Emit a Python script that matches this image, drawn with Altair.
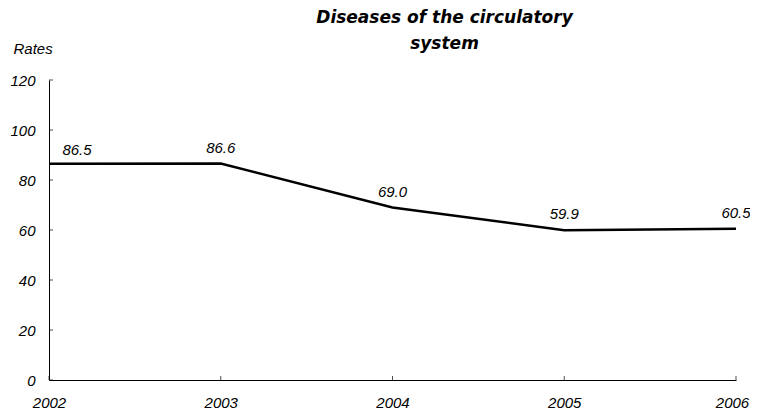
import altair as alt
import pandas as pd

years = [2002, 2003, 2004, 2005, 2006]
rates = [86.5, 86.6, 69.0, 59.9, 60.5]
labels = ["86.5", "86.6", "69.0", "59.9", "60.5"]
y_ticks = [0, 20, 40, 60, 80, 100, 120]

df = pd.DataFrame({"year": years, "rate": rates, "label": labels})
ticks_y = pd.DataFrame({"v": y_ticks})
ticks_x = pd.DataFrame({"year": years})

FONT = "Liberation Sans"

xscale = alt.Scale(domain=[2002, 2006], nice=False, zero=False)
yscale = alt.Scale(domain=[0, 120], nice=False)

base = alt.Chart(df)

line = base.mark_line(color="black", strokeWidth=2.5).encode(
    x=alt.X("year:Q", scale=xscale, axis=alt.Axis(
        values=years, format="d", title=None, ticks=False, grid=False,
        domainColor="black", domainWidth=1, labelFont=FONT, labelFontSize=15,
        labelFontStyle="italic", labelColor="black", labelPadding=15,
        labelFlush=False,
        labelOffset={"condition": {"test": "datum.value == 2006", "value": -4},
                     "value": 0})),
    y=alt.Y("rate:Q", scale=yscale, axis=alt.Axis(
        values=y_ticks, title="Rates", titleAngle=0, titleAlign="left",
        titleBaseline="alphabetic", titleX=-36, titleY=-27,
        titleFont=FONT, titleFontSize=15, titleFontStyle="italic",
        titleFontWeight="normal", titleColor="black",
        ticks=False, grid=False, domainColor="black", domainWidth=1,
        labelFont=FONT, labelFontSize=15, labelFontStyle="italic",
        labelColor="black", labelPadding=14)),
)

txt_first = base.transform_filter(alt.datum.year == 2002).mark_text(
    font=FONT, fontSize=15, fontStyle="italic", color="black",
    baseline="alphabetic", dy=-9, dx=28).encode(
    x="year:Q", y="rate:Q", text="label:N")

txt_rest = base.transform_filter(alt.datum.year > 2002).mark_text(
    font=FONT, fontSize=15, fontStyle="italic", color="black",
    baseline="alphabetic", dy=-11).encode(
    x="year:Q", y="rate:Q", text="label:N")

yt = alt.Chart(ticks_y).mark_tick(color="black", orient="horizontal",
                                  size=4, thickness=1, xOffset=2).encode(
    x=alt.datum(2002), y="v:Q")

xt = alt.Chart(ticks_x).mark_tick(color="black", orient="vertical",
                                  size=4, thickness=1, yOffset=-2).encode(
    x="year:Q", y=alt.datum(0))

chart = alt.layer(line, yt, xt, txt_first, txt_rest).properties(
    width=687, height=300,
    autosize=alt.AutoSizeParams(type="none"),
    padding={"left": 41, "top": 72, "right": 14, "bottom": 30},
    title=alt.TitleParams(
        text=["Diseases of the circulatory", "system"],
        font="DejaVu Sans", fontSize=17, fontWeight="bold", fontStyle="italic",
        color="black", anchor="middle", dx=52, lineHeight=26, offset=28,
        dy=40),
).configure_view(stroke=None)

chart.save("out.html", embed_options={"renderer": "svg", "actions": False})
